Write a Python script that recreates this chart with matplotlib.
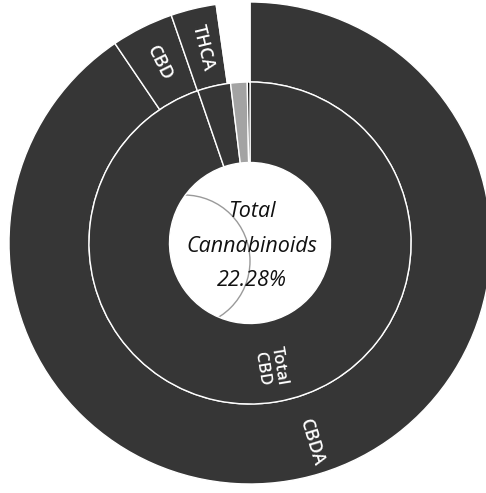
import matplotlib
matplotlib.use("Agg")
import matplotlib.pyplot as plt
import numpy as np
from matplotlib.patches import Circle

# ---- data (percent of sample) ----
outer_labels = ["CBDA", "CBD", "THCA", ""]
outer_values = [20.17, 0.93, 0.68, 0.50]
inner_labels = ["Total\nCBD", "", "", ""]
inner_values = [21.11, 0.74, 0.37, 0.06]
total_text = "Total\nCannabinoids\n22.28%"

outer_colors = ["#363636", "#363636", "#363636", "#ffffff"]
inner_colors = ["#363636", "#363636", "#a3a3a3", "#0c0c0c"]

W, H = 486, 493
fig = plt.figure(figsize=(W / 100, H / 100), dpi=100)
ax = fig.add_axes([0, 0, 1, 1])
ax.set_xlim(0, W)
ax.set_ylim(0, H)
ax.set_aspect("equal")
ax.axis("off")

cx, cy = 250, H - 243
R_out, R_mid, R_in = 241, 161, 80.5

# faint artefact circle seen in the hole
ax.add_patch(Circle((184, H - 261), 66, fill=False, ec="#9a9a9a", lw=1.0, zorder=0))

w_out, _ = ax.pie(outer_values, colors=outer_colors, radius=R_out, center=(cx, cy),
                  startangle=90, counterclock=False, frame=True,
                  wedgeprops=dict(width=R_out - R_mid, edgecolor="white", linewidth=1.0))
w_in, _ = ax.pie(inner_values, colors=inner_colors, radius=R_mid, center=(cx, cy),
                 startangle=90, counterclock=False, frame=True,
                 wedgeprops=dict(width=R_mid - R_in, edgecolor="white", linewidth=1.0))
for w in list(w_out) + list(w_in):
    w.set_zorder(1)
ax.set_xlim(0, W)
ax.set_ylim(0, H)
ax.axis("off")

def label_wedges(wedges, labels, rfrac_list, size):
    for w, lab, rr in zip(wedges, labels, rfrac_list):
        if not lab:
            continue
        mid = (w.theta1 + w.theta2) / 2.0
        rad = np.deg2rad(mid)
        x = cx + rr * np.cos(rad)
        y = cy + rr * np.sin(rad)
        rot = (mid + 180) % 360 - 180
        if rot > 90:
            rot -= 180
        elif rot <= -90:
            rot += 180
        ax.text(x, y, lab, rotation=rot, rotation_mode="anchor", ha="center", va="center",
                multialignment="center", color="white", fontsize=size, fontweight="semibold",
                family=["Open Sans", "DejaVu Sans"], linespacing=1.1, zorder=3)

label_wedges(w_out, outer_labels, [209, 201, 201, 0], 13)
label_wedges(w_in, inner_labels, [126, 0, 0, 0], 12)

ax.text(cx + 2, cy - 3, total_text, ha="center", va="center", fontsize=15.5, style="italic",
        family=["Open Sans", "DejaVu Sans"], color="#111111", linespacing=1.85, zorder=3)

fig.savefig("out.png", dpi=100, facecolor="white")
